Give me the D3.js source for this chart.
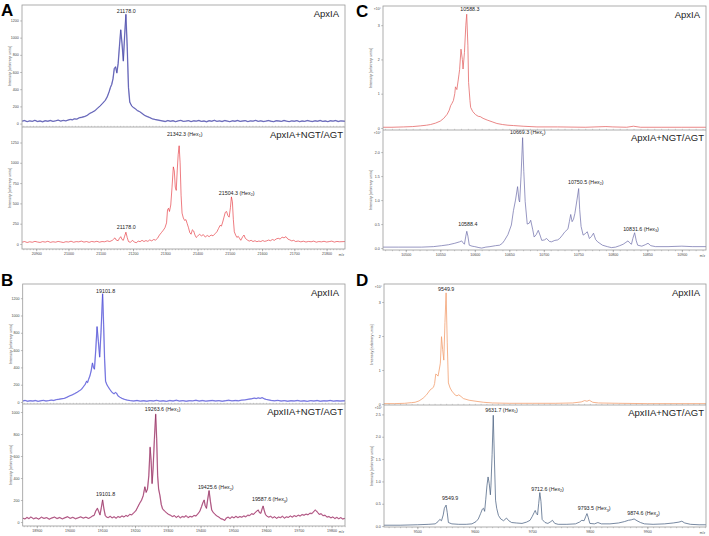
<!DOCTYPE html>
<html><head><meta charset="utf-8">
<script src="https://cdn.jsdelivr.net/npm/d3@7"></script>
<style>body{margin:0;background:#fff}svg{display:block}</style>
</head><body>
<svg id="c" width="709" height="536"></svg>
<script>
// ---------------- DATA ----------------
const xTicksA = [20900,21000,21100,21200,21300,21400,21500,21600,21700,21800];
const xTicksB = [18900,19000,19100,19200,19300,19400,19500,19600,19700,19800];
const xTicksC = [10500,10550,10600,10650,10700,10750,10800,10850,10900];
const xTicksD = [9500,9600,9700,9800,9900];
const yTicksATop = [0,200,400,600,800,1000,1200];
const yTicksABot = [0,250,500,750,1000,1250];
const yTicksBTop = [0,200,400,600,800,1000,1200];
const yTicksBBot = [0,200,400,600,800,1000];
const yTicksCTop = [0,1,2,3];
const yTicksCBot = [0,0.5,1,1.5,2];
const yTicksDTop = [0,1,2,3];
const yTicksDBot = [0,0.5,1,1.5,2,2.5];

const namesTop = ["ApxIA","ApxIIA","ApxIA","ApxIIA"];
const namesBot = ["ApxIA+NGT/AGT","ApxIIA+NGT/AGT","ApxIA+NGT/AGT","ApxIIA+NGT/AGT"];

// [m/z, intensity]
const specATop = [[20856,28],[20864,35],[20872,22],[20880,31],[20888,26],[20896,38],[20904,24],[20912,30],[20920,21],[20928,33],[20936,27],[20944,36],[20952,25],[20960,32],[20968,40],[20976,29],[20984,37],[20992,31],[21000,42],[21006,48],[21012,44],[21018,55],[21026,52],[21034,68],[21042,74],[21050,82],[21058,95],[21066,118],[21074,132],[21082,150],[21090,178],[21098,205],[21106,236],[21114,270],[21120,310],[21126,370],[21130,420],[21134,455],[21138,520],[21142,640],[21146,660],[21150,590],[21154,700],[21158,900],[21162,1090],[21166,930],[21170,730],[21174,1020],[21178,1270],[21182,900],[21186,420],[21190,250],[21196,205],[21202,185],[21208,170],[21214,150],[21220,140],[21228,118],[21236,95],[21244,82],[21252,70],[21260,55],[21268,48],[21276,42],[21284,36],[21292,30],[21300,24],[21308,35],[21316,27],[21324,33],[21332,22],[21340,31],[21348,37],[21356,26],[21364,29],[21372,34],[21380,23],[21388,32],[21396,28],[21404,36],[21412,25],[21420,30],[21428,21],[21436,33],[21444,27],[21452,38],[21460,26],[21468,31],[21476,24],[21484,35],[21492,29],[21500,22],[21508,32],[21516,27],[21524,36],[21532,25],[21540,30],[21548,34],[21556,23],[21564,31],[21572,28],[21580,37],[21588,26],[21596,32],[21604,24],[21612,29],[21620,35],[21628,27],[21636,22],[21644,33],[21652,30],[21660,25],[21668,36],[21676,28],[21684,23],[21692,31],[21700,27],[21708,34],[21716,22],[21724,30],[21732,26],[21740,35],[21748,29],[21756,24],[21764,32],[21772,27],[21780,36],[21788,25],[21796,30],[21804,22],[21812,33],[21820,28],[21828,35],[21836,24],[21844,31],[21857,27]];

const specABot = [[20856,22],[20864,30],[20872,18],[20880,27],[20888,21],[20896,32],[20904,24],[20912,19],[20920,29],[20928,23],[20936,33],[20944,20],[20952,27],[20960,22],[20968,31],[20976,25],[20984,18],[20992,28],[21000,24],[21008,34],[21016,21],[21024,29],[21032,26],[21040,35],[21048,23],[21056,30],[21064,20],[21072,31],[21080,25],[21088,33],[21096,22],[21104,30],[21112,27],[21120,38],[21128,30],[21136,45],[21140,60],[21144,75],[21148,48],[21154,40],[21158,70],[21162,90],[21166,55],[21170,45],[21174,95],[21178,145],[21182,80],[21186,30],[21192,20],[21198,45],[21204,25],[21210,15],[21216,35],[21222,28],[21228,45],[21234,30],[21240,42],[21246,32],[21252,50],[21258,38],[21264,55],[21270,48],[21276,70],[21282,110],[21288,140],[21294,170],[21299,200],[21304,260],[21307,420],[21310,440],[21313,400],[21317,480],[21321,700],[21325,950],[21328,900],[21331,700],[21334,660],[21337,900],[21340,1100],[21343,1210],[21346,1000],[21349,600],[21352,380],[21356,320],[21360,290],[21364,300],[21368,250],[21372,200],[21376,140],[21380,120],[21384,175],[21388,160],[21392,110],[21396,80],[21400,95],[21406,120],[21412,100],[21418,115],[21424,85],[21430,105],[21436,90],[21442,110],[21448,100],[21454,125],[21460,150],[21465,190],[21470,230],[21474,220],[21478,270],[21482,330],[21486,390],[21490,400],[21494,350],[21498,330],[21502,450],[21505,580],[21508,520],[21511,300],[21514,150],[21518,110],[21522,80],[21526,95],[21530,70],[21534,45],[21540,90],[21544,110],[21548,70],[21554,50],[21560,35],[21566,45],[21572,30],[21578,40],[21584,28],[21590,36],[21596,30],[21602,42],[21608,32],[21614,38],[21620,48],[21626,40],[21632,55],[21638,45],[21644,62],[21650,70],[21656,60],[21662,85],[21668,75],[21674,90],[21680,60],[21686,50],[21692,38],[21698,45],[21704,30],[21712,36],[21720,26],[21728,34],[21736,24],[21744,31],[21752,27],[21760,35],[21768,22],[21776,30],[21784,26],[21792,33],[21800,24],[21808,29],[21816,35],[21824,23],[21832,31],[21840,27],[21857,30]];

const specBTop = [[18857,12],[18864,18],[18872,9],[18880,15],[18888,11],[18896,17],[18904,8],[18912,14],[18920,19],[18928,12],[18936,16],[18944,22],[18952,18],[18960,28],[18968,32],[18976,38],[18984,42],[18992,55],[19000,70],[19008,82],[19016,98],[19024,115],[19030,130],[19036,145],[19042,175],[19048,205],[19052,240],[19055,225],[19058,260],[19062,300],[19066,360],[19070,450],[19073,400],[19076,380],[19080,600],[19084,870],[19088,700],[19092,520],[19096,800],[19101,1250],[19104,900],[19107,500],[19110,240],[19114,200],[19118,175],[19124,140],[19130,110],[19136,95],[19140,110],[19144,100],[19148,70],[19154,55],[19160,42],[19168,30],[19176,22],[19186,16],[19196,12],[19206,18],[19216,10],[19226,15],[19236,9],[19246,16],[19256,12],[19266,19],[19276,10],[19286,14],[19296,8],[19306,17],[19316,12],[19326,20],[19336,11],[19346,16],[19356,9],[19366,15],[19376,13],[19386,20],[19396,11],[19406,17],[19416,10],[19426,14],[19436,18],[19446,12],[19456,16],[19466,9],[19476,15],[19486,20],[19496,13],[19506,18],[19516,14],[19526,22],[19536,25],[19546,32],[19556,38],[19564,45],[19570,40],[19576,48],[19582,42],[19588,50],[19594,38],[19600,30],[19608,24],[19616,18],[19626,14],[19636,19],[19646,11],[19656,16],[19666,9],[19676,15],[19686,12],[19696,18],[19706,10],[19716,14],[19726,8],[19736,16],[19746,11],[19756,17],[19766,9],[19776,14],[19786,12],[19796,18],[19806,10],[19816,15],[19826,11],[19841,14]];

const specBBot = [[18857,35],[18864,28],[18870,42],[18876,31],[18882,46],[18890,30],[18898,38],[18906,27],[18914,44],[18922,33],[18930,40],[18938,26],[18946,37],[18954,45],[18962,32],[18970,41],[18978,29],[18986,39],[18994,48],[19002,34],[19010,43],[19018,30],[19026,38],[19034,47],[19042,36],[19050,44],[19058,33],[19064,42],[19070,55],[19075,60],[19080,100],[19085,125],[19089,95],[19093,65],[19097,130],[19101,200],[19105,120],[19109,60],[19113,45],[19118,40],[19124,52],[19130,38],[19136,48],[19142,35],[19148,50],[19154,42],[19160,55],[19166,46],[19172,60],[19178,52],[19184,70],[19190,65],[19196,85],[19202,100],[19208,135],[19214,170],[19220,200],[19225,240],[19230,320],[19234,270],[19238,300],[19242,420],[19246,680],[19249,560],[19252,350],[19255,480],[19259,750],[19263,980],[19266,760],[19269,420],[19272,300],[19276,240],[19280,160],[19284,120],[19290,100],[19296,85],[19302,70],[19308,62],[19314,50],[19320,58],[19326,42],[19332,55],[19338,38],[19344,50],[19350,45],[19356,58],[19362,40],[19368,52],[19374,46],[19380,60],[19386,55],[19392,75],[19398,100],[19403,140],[19407,175],[19411,200],[19414,150],[19418,125],[19422,210],[19426,285],[19430,190],[19434,110],[19438,90],[19444,70],[19450,55],[19456,45],[19462,30],[19468,25],[19474,15],[19478,35],[19484,45],[19490,32],[19496,48],[19502,38],[19508,52],[19514,40],[19520,50],[19526,44],[19532,55],[19538,48],[19544,62],[19550,60],[19556,75],[19562,70],[19568,90],[19572,100],[19576,110],[19580,85],[19584,80],[19588,120],[19591,145],[19594,110],[19598,70],[19602,55],[19608,45],[19614,52],[19620,38],[19626,48],[19632,34],[19638,45],[19644,40],[19650,52],[19656,36],[19662,47],[19668,42],[19674,55],[19680,45],[19686,58],[19692,50],[19698,62],[19704,55],[19710,68],[19716,62],[19722,72],[19728,66],[19734,80],[19740,78],[19746,95],[19750,110],[19754,100],[19758,85],[19762,70],[19768,75],[19774,58],[19780,62],[19786,45],[19792,50],[19798,38],[19804,46],[19810,32],[19816,42],[19822,30],[19828,40],[19834,28],[19841,34]];

const specCTop = [[10467,0.02],[10480,0.02],[10497,0.03],[10510,0.04],[10521,0.06],[10530,0.08],[10536,0.1],[10543,0.14],[10550,0.2],[10555,0.28],[10560,0.4],[10563,0.52],[10565,0.65],[10567,0.72],[10569,0.8],[10571,1.0],[10572,1.2],[10574,1.12],[10576,1.4],[10577,1.55],[10578,1.7],[10580,2.3],[10582,2.0],[10583,1.72],[10585,2.2],[10587,3.0],[10588.3,3.32],[10590,2.4],[10591,1.33],[10593,0.8],[10594,0.6],[10597,0.48],[10601,0.39],[10605,0.34],[10608,0.33],[10612,0.28],[10618,0.23],[10625,0.18],[10632,0.13],[10640,0.1],[10648,0.08],[10656,0.07],[10670,0.05],[10690,0.03],[10720,0.03],[10760,0.02],[10790,0.04],[10800,0.03],[10820,0.02],[10830,0.05],[10840,0.02],[10870,0.02],[10900,0.02],[10935,0.02]];

const specCBot = [[10467,0.02],[10490,0.02],[10523,0.02],[10540,0.03],[10552,0.05],[10562,0.07],[10571,0.1],[10578,0.13],[10581,0.15],[10583,0.11],[10585,0.08],[10587,0.25],[10588.4,0.35],[10590,0.25],[10592,0.06],[10596,0.04],[10600,0.03],[10606,0.01],[10610,0.0],[10616,0.02],[10622,0.03],[10630,0.05],[10636,0.06],[10640,0.1],[10643,0.16],[10648,0.28],[10653,0.48],[10656,0.78],[10659,1.0],[10662,1.28],[10664,1.0],[10665,0.96],[10667,1.5],[10669.3,2.3],[10671,1.6],[10673,0.97],[10676,0.5],[10679,0.52],[10681,0.58],[10684,0.38],[10686,0.23],[10689,0.28],[10692,0.37],[10695,0.25],[10697,0.16],[10701,0.17],[10704,0.2],[10708,0.14],[10711,0.13],[10716,0.16],[10720,0.17],[10723,0.2],[10727,0.27],[10730,0.33],[10735,0.4],[10737,0.55],[10739,0.7],[10741,0.55],[10743,0.6],[10745,0.72],[10748,1.0],[10750.5,1.24],[10752,0.8],[10754,0.45],[10757,0.27],[10760,0.3],[10763,0.34],[10766,0.2],[10769,0.24],[10772,0.31],[10775,0.18],[10778,0.13],[10785,0.06],[10792,0.03],[10798,0.01],[10804,0.02],[10810,0.05],[10815,0.08],[10819,0.12],[10822,0.15],[10825,0.1],[10827,0.08],[10829,0.2],[10831.6,0.32],[10834,0.15],[10836,0.06],[10842,0.04],[10847,0.07],[10851,0.1],[10855,0.05],[10862,0.03],[10880,0.03],[10900,0.04],[10915,0.03],[10935,0.03]];

const specDTop = [[9442,0.01],[9460,0.01],[9478,0.02],[9490,0.04],[9496,0.05],[9503,0.09],[9510,0.17],[9516,0.27],[9522,0.41],[9528,0.49],[9530,0.6],[9532,0.88],[9534,0.86],[9536,0.82],[9538,1.0],[9540,1.2],[9542,1.98],[9544,1.6],[9546,1.29],[9548,2.4],[9550,3.27],[9552,1.8],[9554,0.62],[9557,0.47],[9560,0.38],[9566,0.26],[9569,0.24],[9572,0.27],[9576,0.22],[9580,0.16],[9590,0.11],[9602,0.08],[9615,0.05],[9631,0.03],[9660,0.02],[9700,0.02],[9740,0.02],[9770,0.03],[9785,0.06],[9791,0.1],[9795,0.08],[9799,0.11],[9805,0.05],[9815,0.03],[9850,0.02],[9900,0.01],[9950,0.01],[10002,0.01]];

const specDBot = [[9442,0.02],[9470,0.02],[9500,0.03],[9520,0.04],[9531,0.05],[9536,0.1],[9539,0.15],[9542,0.12],[9545,0.25],[9547,0.4],[9550,0.47],[9552,0.3],[9554,0.08],[9560,0.05],[9572,0.04],[9585,0.04],[9595,0.05],[9602,0.1],[9606,0.16],[9610,0.28],[9613,0.38],[9615,0.4],[9617,0.33],[9619,0.6],[9621,0.9],[9623,1.1],[9625,0.95],[9627,0.7],[9628,0.9],[9630,1.6],[9632,2.48],[9634,1.5],[9636,0.58],[9638,0.4],[9641,0.24],[9645,0.16],[9650,0.12],[9655,0.18],[9659,0.12],[9664,0.08],[9672,0.07],[9682,0.06],[9690,0.09],[9696,0.13],[9700,0.22],[9703,0.3],[9705,0.35],[9707,0.28],[9709,0.25],[9711,0.5],[9713,0.75],[9715,0.55],[9717,0.15],[9722,0.08],[9727,0.06],[9732,0.1],[9735,0.13],[9739,0.06],[9745,0.04],[9760,0.04],[9775,0.05],[9782,0.09],[9786,0.13],[9790,0.12],[9793,0.22],[9795,0.28],[9797,0.2],[9800,0.06],[9808,0.05],[9814,0.08],[9820,0.05],[9835,0.05],[9850,0.07],[9860,0.1],[9867,0.13],[9872,0.14],[9877,0.16],[9882,0.12],[9888,0.08],[9895,0.05],[9910,0.04],[9930,0.05],[9945,0.07],[9955,0.09],[9960,0.11],[9965,0.07],[9975,0.04],[9990,0.03],[10002,0.03]];

// peak annotations: [number text, hex subscript (or null), m/z of label start, intensity of label baseline]
const peaksATop = [["21178.0",null,21150,1290]];
const peaksABot = [["21178.0",null,21150,185],["21342.3","1",21305,1330],["21504.3","2",21466,604]];
const peaksBTop = [["19101.8",null,19081,1264]];
const peaksBBot = [["19263.6","1",19230,1009],["19101.8",null,19081,239],["19425.6","2",19392,297],["19587.6","3",19557,188]];
const peaksCTop = [["10588.3",null,10579,3.40]];
const peaksCBot = [["10669.3","1",10651,2.37],["10750.5","2",10735,1.33],["10588.4",null,10576,0.46],["10831.6","3",10815,0.36]];
const peaksDTop = [["9549.9",null,9536,3.33]];
const peaksDBot = [["9631.7","1",9618,2.56],["9549.9",null,9543,0.58],["9712.6","2",9698,0.79],["9793.5","3",9779,0.35],["9874.6","4",9865,0.24]];

// ---------------- LAYOUT ----------------
const f0 = d=>d3.format("d")(d);
const f1 = d=>d3.format(".1f")(d);
const panels = [
 {letter:"A", lx:1, ly:15.6, x0:22, x1:345, yTop:5, ySep:127, yBot:249, xDom:[20856,21857], xTicks:xTicksA, minor:10, mult:false,
  top:{data:specATop, color:"#34349a", halo:"#a8a8dc", sw:0.6, yDom:[-40,1380], yTicks:yTicksATop, fmt:f0, name:namesTop[0], peaks:peaksATop},
  bot:{data:specABot, color:"#e3242b", halo:null, sw:0.6, yDom:[-62,1441], yTicks:yTicksABot, fmt:f0, name:namesBot[0], peaks:peaksABot}},
 {letter:"B", lx:1, ly:286, x0:22.7, x1:345, yTop:284, ySep:404, yBot:526, xDom:[18857,19841], xTicks:xTicksB, minor:10, mult:false,
  top:{data:specBTop, color:"#4040d0", halo:"#b8b8f2", sw:0.6, yDom:[-23,1364], yTicks:yTicksBTop, fmt:f0, name:namesTop[1], peaks:peaksBTop},
  bot:{data:specBBot, color:"#7a1e4c", halo:"#e8a8c8", sw:0.6, yDom:[-36,1073], yTicks:yTicksBBot, fmt:f0, name:namesBot[1], peaks:peaksBBot}},
 {letter:"C", lx:356, ly:17, x0:383, x1:706, yTop:6, ySep:130, yBot:250, xDom:[10467,10935], xTicks:xTicksC, minor:5, mult:true,
  top:{data:specCTop, color:"#e56868", halo:null, sw:0.8, yDom:[-0.06,3.56], yTicks:yTicksCTop, fmt:f0, name:namesTop[2], peaks:peaksCTop},
  bot:{data:specCBot, color:"#6a6aa8", halo:null, sw:0.7, yDom:[-0.04,2.46], yTicks:yTicksCBot, fmt:f1, name:namesBot[2], peaks:peaksCBot}},
 {letter:"D", lx:356, ly:286, x0:384, x1:706, yTop:284, ySep:405, yBot:527, xDom:[9442,10002], xTicks:xTicksD, minor:10, mult:true,
  top:{data:specDTop, color:"#f2a070", halo:null, sw:0.8, yDom:[-0.03,3.53], yTicks:yTicksDTop, fmt:f0, name:namesTop[3], peaks:peaksDTop},
  bot:{data:specDBot, color:"#4b6282", halo:null, sw:0.75, yDom:[-0.02,2.71], yTicks:yTicksDBot, fmt:f1, name:namesBot[3], peaks:peaksDBot}}
];

const svg = d3.select("#c");
const FONT = "'Liberation Sans', Arial, sans-serif";
const NAMEFONT = "'Liberation Sans Narrow','Arial Narrow','Liberation Sans',sans-serif";
const frameCol = "#9a9a9a";

panels.forEach((p,pi)=>{
  const g = svg.append("g");
  const x = d3.scaleLinear().domain(p.xDom).range([p.x0,p.x1]);

  [["top",p.yTop,p.ySep],["bot",p.ySep,p.yBot]].forEach(([key,ya,yb])=>{
    const s = p[key];
    const y = d3.scaleLinear().domain(s.yDom).range([yb,ya]);
    const cid = "clip"+pi+key;
    g.append("clipPath").attr("id",cid).append("rect")
      .attr("x",p.x0).attr("y",ya).attr("width",p.x1-p.x0).attr("height",yb-ya);

    // y axis
    const yAx = d3.axisLeft(y).tickValues(s.yTicks).tickFormat(s.fmt).tickSize(1.8).tickPadding(1.5);
    const ga = g.append("g").attr("transform",`translate(${p.x0},0)`).call(yAx);
    ga.select(".domain").remove();
    ga.selectAll("line").attr("stroke","#555").attr("stroke-width",0.4);
    ga.selectAll("text").attr("font-family",FONT).attr("font-size",3.6).attr("fill","#444");

    if(p.mult){
      g.append("text").attr("x",p.x0-2).attr("y",ya+4).attr("text-anchor","end")
        .attr("font-family",FONT).attr("font-size",3.4).attr("fill","#444")
        .text("×10⁴");
    }

    // y title
    g.append("text")
      .attr("transform",`translate(${p.x0-11},${(ya+yb)/2}) rotate(-90)`)
      .attr("text-anchor","middle").attr("font-family",FONT).attr("font-size",3.8).attr("fill","#555")
      .text("Intensity [arbitrary units]");

    // spectrum line
    const line = d3.line().x(d=>x(d[0])).y(d=>y(d[1]));
    const lg = g.append("g").attr("clip-path",`url(#${cid})`);
    if(s.halo){
      lg.append("path").datum(s.data).attr("d",line).attr("fill","none")
        .attr("stroke",s.halo).attr("stroke-width",1.4).attr("stroke-linejoin","round");
    }
    lg.append("path").datum(s.data).attr("d",line).attr("fill","none")
      .attr("stroke",s.color).attr("stroke-width",s.sw).attr("stroke-linejoin","round");

    // peak labels
    s.peaks.forEach(pk=>{
      const t = g.append("text").attr("x",x(pk[2])).attr("y",y(pk[3]))
        .attr("font-family",FONT).attr("font-size",5.3).attr("fill","#222");
      t.append("tspan").text(pk[0]);
      if(pk[1]){
        t.append("tspan").text(" (Hex");
        t.append("tspan").attr("font-size",3.6).attr("dy",1.2).text(pk[1]);
        t.append("tspan").attr("dy",-1.2).text(")");
      }
    });

    // sample name
    g.append("text").attr("x", key==="top" ? p.x1-6 : p.x1-2)
      .attr("y", ya + (key==="top"?12:11))
      .attr("text-anchor","end").attr("font-family",NAMEFONT).attr("font-size",9.5).attr("fill","#222")
      .text(s.name);
  });

  // x axis (bottom)
  const step = (p.xTicks[1]-p.xTicks[0])/p.minor;
  const minorTicks = d3.range(Math.ceil(p.xDom[0]/step)*step, p.xDom[1], step);
  const xMinor = d3.axisBottom(x).tickValues(minorTicks).tickFormat("").tickSize(1.2);
  const gm = g.append("g").attr("transform",`translate(0,${p.yBot})`).call(xMinor);
  gm.select(".domain").remove();
  gm.selectAll("line").attr("stroke","#666").attr("stroke-width",0.35);
  const xAx = d3.axisBottom(x).tickValues(p.xTicks).tickFormat(f0).tickSize(2.2).tickPadding(1.2);
  const gx = g.append("g").attr("transform",`translate(0,${p.yBot})`).call(xAx);
  gx.select(".domain").remove();
  gx.selectAll("line").attr("stroke","#555").attr("stroke-width",0.4);
  gx.selectAll("text").attr("font-family",FONT).attr("font-size",3.6).attr("fill","#444");
  // minor ticks at the separator
  const gs = g.append("g").attr("transform",`translate(0,${p.ySep})`).call(xMinor);
  gs.select(".domain").remove();
  gs.selectAll("line").attr("stroke","#888").attr("stroke-width",0.35).attr("y2",-1.2);

  g.append("text").attr("x",p.x1-1).attr("y",p.yBot+7).attr("text-anchor","end")
    .attr("font-family",FONT).attr("font-size",3.2).attr("fill","#444").text("m/z");

  // frame
  g.append("rect").attr("x",p.x0).attr("y",p.yTop).attr("width",p.x1-p.x0).attr("height",p.yBot-p.yTop)
    .attr("fill","none").attr("stroke",frameCol).attr("stroke-width",0.8);
  g.append("line").attr("x1",p.x0).attr("x2",p.x1).attr("y1",p.ySep).attr("y2",p.ySep)
    .attr("stroke",frameCol).attr("stroke-width",0.8);

  // panel letter (drawn last, on top)
  g.append("text").attr("x",p.lx).attr("y",p.ly).text(p.letter)
    .attr("font-family","'Liberation Sans',Arial,sans-serif").attr("font-weight","bold")
    .attr("font-size",17).attr("fill","#000");
});
</script>
</body></html>
